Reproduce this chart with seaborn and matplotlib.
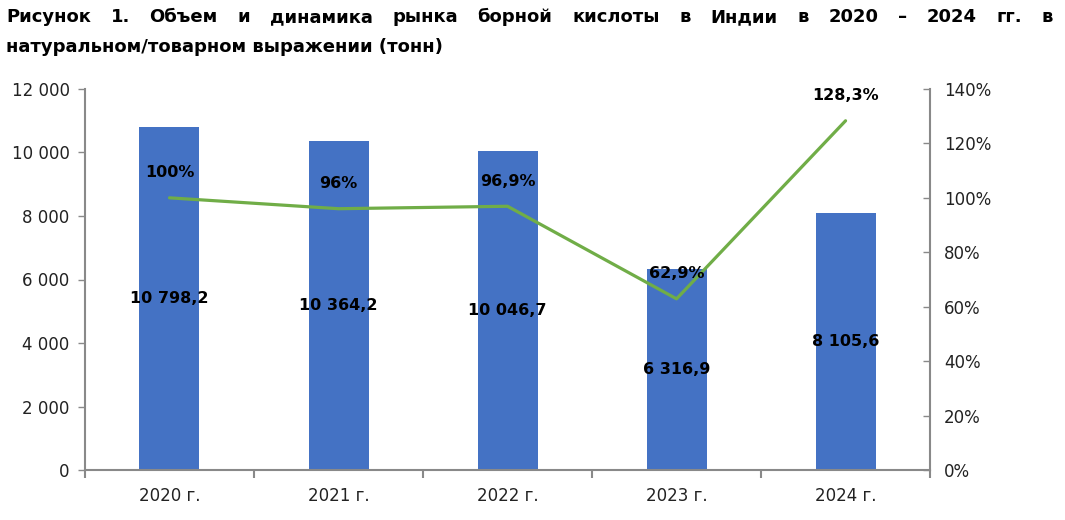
import matplotlib
matplotlib.use("Agg")
import matplotlib.pyplot as plt
import seaborn as sns
import numpy as np
from matplotlib.ticker import FuncFormatter, FixedLocator

# -----------------------------
# Data
# -----------------------------
years = ["2020 г.", "2021 г.", "2022 г.", "2023 г.", "2024 г."]
volume = [10798.2, 10364.2, 10046.7, 6316.9, 8105.6]          # тонн
dynamics = [100.0, 96.0, 96.9, 62.9, 128.3]                   # %
dyn_labels = ["100%", "96%", "96,9%", "62,9%", "128,3%"]

title_line1 = "Рисунок 1. Объем и динамика рынка борной кислоты в Индии в 2020 – 2024 гг. в"
title_line2 = "натуральном/товарном выражении (тонн)"

BAR = "#4472C4"
LINE = "#70AD47"
GREY = "#898989"


def fmt_num(v, dec=0):
    s = f"{v:,.{dec}f}".replace(",", " ").replace(".", ",")
    return s


sns.set_theme(style="white")
plt.rcParams["font.family"] = ["DejaVu Sans"]

fig = plt.figure(figsize=(10.65, 5.2), dpi=100)
ax = fig.add_axes([0.0798, 0.096, 0.7935, 0.733])

# bars
sns.barplot(x=years, y=volume, color=BAR, width=0.355, saturation=1,
            linewidth=0, ax=ax)
ax.set_xlim(-0.5, len(years) - 0.5)
ax.set_ylim(0, 12000)
ax.set_yticks(np.arange(0, 12001, 2000))
ax.yaxis.set_major_formatter(FuncFormatter(lambda v, p: fmt_num(v)))
ax.set_xlabel("")
ax.set_ylabel("")

for i, v in enumerate(volume):
    ax.text(i, v / 2, fmt_num(v, 1), ha="center", va="center",
            fontsize=11.5, fontweight="bold", color="black", zorder=5)

# x ticks at category boundaries
ax.tick_params(axis="x", which="major", length=0, labelsize=12, pad=12,
               colors="#222222")
ax.xaxis.set_minor_locator(FixedLocator(np.arange(-0.5, len(years), 1.0)))
ax.tick_params(axis="x", which="minor", length=6, width=1.5, color=GREY,
               direction="out", bottom=True)
ax.tick_params(axis="y", length=5, width=1, color=GREY, direction="out",
               left=True, labelsize=12, labelcolor="#222222", pad=6)

for s in ["top", "right"]:
    ax.spines[s].set_visible(False)
for s in ["left", "bottom"]:
    ax.spines[s].set_color(GREY)
    ax.spines[s].set_linewidth(1.5)

# line on secondary axis
ax2 = ax.twinx()
sns.lineplot(x=range(len(years)), y=dynamics, color=LINE, linewidth=2.3,
             ax=ax2, zorder=4)
ax2.set_ylim(0, 140)
ax2.set_yticks(np.arange(0, 141, 20))
ax2.yaxis.set_major_formatter(FuncFormatter(lambda v, p: f"{v:.0f}%"))
ax2.set_xlim(-0.5, len(years) - 0.5)
ax2.tick_params(axis="y", length=5, width=1, color=GREY, direction="in",
                right=True, labelsize=12, labelcolor="#222222", pad=10)
for s in ["top", "left", "bottom"]:
    ax2.spines[s].set_visible(False)
ax2.spines["right"].set_color(GREY)
ax2.spines["right"].set_linewidth(1.5)
ax2.set_ylabel("")

for i, (v, lab) in enumerate(zip(dynamics, dyn_labels)):
    ax2.annotate(lab, (i, v), xytext=(0, 18), textcoords="offset points",
                 ha="center", va="center", fontsize=11.5, fontweight="bold",
                 color="black", zorder=6)

# justified title (line 1 stretched across full width)
fig.canvas.draw()
renderer = fig.canvas.get_renderer()
words = title_line1.split(" ")
left, right = 6 / 1065, 1 - 12 / 1065
texts = [fig.text(0, 1 - 17 / 520, w, fontsize=13, fontweight="bold",
                  va="center", ha="left", color="black") for w in words]
widths = [t.get_window_extent(renderer).width / fig.bbox.width for t in texts]
gap = (right - left - sum(widths)) / (len(words) - 1)
x = left
for t, w in zip(texts, widths):
    t.set_x(x)
    x += w + gap
fig.text(left, 1 - 47 / 520, title_line2, fontsize=13, fontweight="bold",
         va="center", ha="left", color="black")

fig.savefig("out.png", dpi=100)
